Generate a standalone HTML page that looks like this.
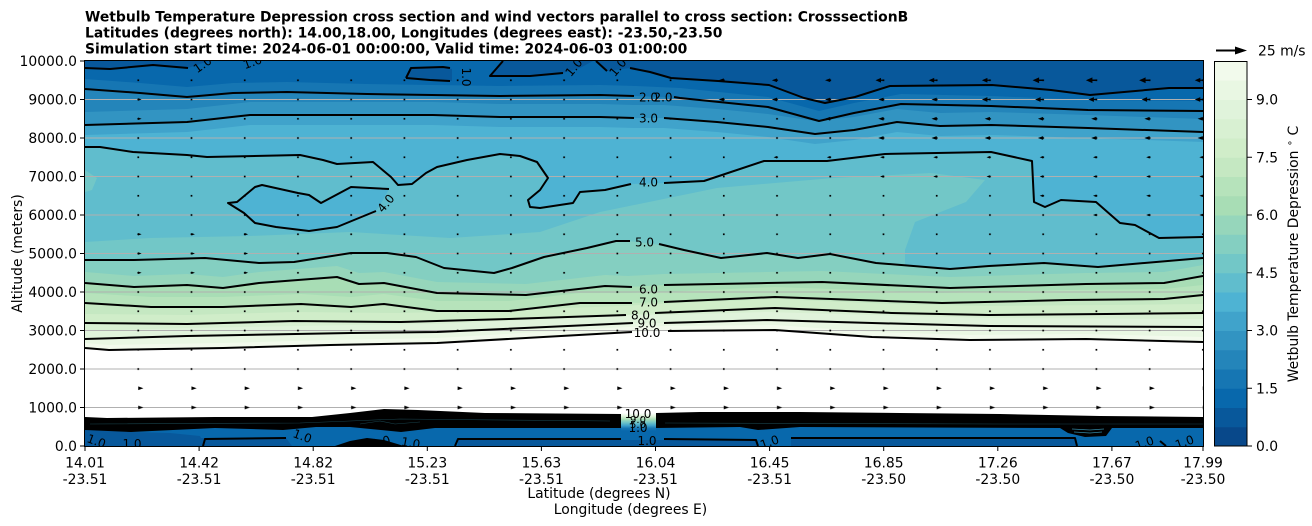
<!DOCTYPE html>
<html><head><meta charset="utf-8"><style>
html,body{margin:0;padding:0;background:#fff;}
svg{display:block;font-family:"DejaVu Sans","Liberation Sans",sans-serif;}
</style></head><body>
<svg width="1312" height="526" viewBox="0 0 1312 526" xmlns="http://www.w3.org/2000/svg">
<defs>
<clipPath id="pc"><rect x="85" y="61" width="1118" height="385"/></clipPath>
<pattern id="pd" patternUnits="userSpaceOnUse" x="58.385" y="51.375" width="53.23" height="19.25"><rect x="25.8" y="8.8" width="1.7" height="1.7" fill="#000"/></pattern>
<pattern id="pr" patternUnits="userSpaceOnUse" x="58.385" y="51.375" width="53.23" height="19.25"><polygon points="26.615,7.825 31.8,9.625 26.615,11.425" fill="#000"/></pattern>
<polygon id="Lb" points="0,-0.7 -4,-0.7 -4,-2.9 -10.5,0 -4,2.9 -4,0.7 0,0.7"/>
<polygon id="Lm" points="0,-0.6 -2.5,-0.6 -2.5,-2.4 -8,0 -2.5,2.4 -2.5,0.6 0,0.6"/>
<polygon id="Ls" points="0,-1.9 -5.2,0 0,1.9"/>
<polygon id="Lt" points="0,-1.3 -3.4,0 0,1.3"/>
<polygon id="Rt" points="0,-1.3 3.4,0 0,1.3"/>
<linearGradient id="gcol" x1="0" y1="0" x2="0" y2="1">
<stop offset="0" stop-color="#ffffff"/><stop offset="0.18" stop-color="#e0f3db"/><stop offset="0.35" stop-color="#a8ddb5"/><stop offset="0.52" stop-color="#72c7c7"/><stop offset="0.7" stop-color="#3fa2cc"/><stop offset="0.85" stop-color="#1676b3"/><stop offset="1" stop-color="#0868ac"/>
</linearGradient>
</defs>

<!-- Titles -->
<g font-weight="bold" font-size="13.9" fill="#000">
<text x="85" y="21.3">Wetbulb Temperature Depression cross section and wind vectors parallel to cross section: CrosssectionB</text>
<text x="85" y="37.3">Latitudes (degrees north): 14.00,18.00, Longitudes (degrees east): -23.50,-23.50</text>
<text x="85" y="53.3">Simulation start time: 2024-06-01 00:00:00, Valid time: 2024-06-03 01:00:00</text>
</g>

<g clip-path="url(#pc)">
<!-- base (<1) -->
<rect x="85" y="61" width="1118" height="385" fill="rgb(8,88,155)"/>
<!-- >=1 -->
<path fill="rgb(8,104,172)" d="M85,68 L110,69 L153,65 L188,68 L200,64 L212,60 L596,60 L607,71 L630,68 L650,72 L671,78 L718,81 L769,85 L804,98 L825,103 L855,97 L890,86 L992,85 L1051,90 L1090,95 L1169,88 L1203,88 L1203,446 L85,446 Z"/>
<path fill="rgb(8,88,155)" d="M406,78 L411,68 L443,67 L452,69 L452,81 L430,80 Z"/>
<path fill="rgb(8,88,155)" d="M490,77 L502,61 L593,61 L580,68 L563,73 Z"/>
<!-- B-based -->
<path fill="rgb(22,118,179)" transform="translate(0,-10)" d="M85,89 L140,93 L187,97 L233,93 L287,92 L367,94 L500,96 L600,95 L636,96 L680,98 L768,107 L819,121 L854,113 L901,104 L991,106 L1088,110 L1203,111 L1203,446 L85,446 Z"/>
<path fill="rgb(36,133,186)" d="M85,89 L140,93 L187,97 L233,93 L287,92 L367,94 L500,96 L600,95 L636,96 L680,98 L768,107 L819,121 L854,113 L901,104 L991,106 L1088,110 L1203,111 L1203,446 L85,446 Z"/>
<!-- C-based -->
<path fill="rgb(50,148,194)" transform="translate(0,-13)" d="M85,125 L187,122 L250,115 L333,115 L433,115 L500,117 L600,117 L634,118 L664,118 L717,122 L768,127 L815,134 L854,130 L897,122 L940,126 L991,125 L1088,128 L1203,132 L1203,460 L85,460 Z"/>
<path fill="rgb(64,163,203)" d="M85,125 L187,122 L250,115 L333,115 L433,115 L500,117 L600,117 L634,118 L664,118 L717,122 L768,127 L815,134 L854,130 L897,122 L940,126 L991,125 L1088,128 L1203,132 L1203,446 L85,446 Z"/>
<path fill="rgb(78,179,211)" transform="translate(0,10)" d="M85,125 L187,122 L250,115 L333,115 L433,115 L500,117 L600,117 L634,118 L664,118 L717,122 L768,127 L815,134 L854,130 L897,122 L940,126 L991,125 L1088,128 L1203,132 L1203,446 L85,446 Z"/>
<!-- D (>=4) -->
<path fill="rgb(96,189,205)" d="M85,147 L100,147 L133,152 L187,155 L207,157 L300,155 L323,160 L337,164 L373,162 L391,177 L398,185 L412,184 L426,173 L437,167 L467,160 L500,154 L520,156 L537,162 L548,178 L540,190 L528,200 L530,207 L540,208 L573,203 L580,192 L605,190 L630,184 L664,183 L704,181 L764,161 L827,161 L885,154 L991,152 L1032,161 L1034,202 L1045,207 L1061,200 L1096,202 L1120,223 L1135,225 L1159,238 L1203,237 L1203,446 L85,446 Z"/>
<path fill="rgb(78,179,211)" d="M228,203 L237,202 L255,187 L262,185 L298,193 L309,195 L321,203 L351,187 L389,189 L383,200 L376,211 L337,227 L309,231 L276,227 L255,223 L244,213 Z"/>
<!-- >=4.5 -->
<path fill="rgb(114,199,199)" d="M85,242 L150,238 L250,236 L350,232 L450,238 L540,232 L600,212 L717,188 L833,178 L931,173 L985,180 L966,202 L915,222 L905,250 L905,446 L85,446 Z"/>
<path fill="rgb(114,199,199)" d="M85,170 L97,178 L92,190 L85,192 Z"/>
<!-- E (>=5) -->
<path fill="rgb(132,207,193)" d="M85,260 L134,260 L205,258 L259,263 L294,262 L351,253 L387,253 L416,257 L444,268 L494,273 L512,268 L544,257 L587,248 L616,241 L628,241 L661,245 L684,250 L721,258 L767,253 L798,258 L830,254 L876,263 L950,269 L989,266 L1044,263 L1098,267 L1203,258 L1203,446 L85,446 Z"/>
<!-- F -->
<path fill="rgb(150,214,187)" transform="translate(0,-11)" d="M85,283 L134,287 L187,285 L223,288 L259,283 L337,277 L359,284 L384,283 L437,293 L526,295 L605,286 L628,287 L664,285 L767,283 L822,282 L950,288 L1086,284 L1164,283 L1203,276 L1203,460 L85,460 Z"/>
<path fill="rgb(168,221,181)" d="M85,283 L134,287 L187,285 L223,288 L259,283 L337,277 L359,284 L384,283 L437,293 L526,295 L605,286 L628,287 L664,285 L767,283 L822,282 L950,288 L1086,284 L1164,283 L1203,276 L1203,446 L85,446 Z"/>
<!-- G -->
<path fill="rgb(182,227,187)" transform="translate(0,-10)" d="M85,303 L151,307 L223,307 L301,304 L351,307 L384,304 L437,311 L509,311 L580,303 L630,303 L664,302 L775,297 L942,303 L1067,300 L1164,299 L1203,295 L1203,460 L85,460 Z"/>
<path fill="rgb(197,232,194)" d="M85,303 L151,307 L223,307 L301,304 L351,307 L384,304 L437,311 L509,311 L580,303 L630,303 L664,302 L775,297 L942,303 L1067,300 L1164,299 L1203,295 L1203,446 L85,446 Z"/>
<!-- H -->
<path fill="rgb(208,237,201)" transform="translate(0,-9)" d="M85,323 L187,324 L294,321 L401,322 L509,319 L623,315 L656,313 L775,308 L892,313 L989,315 L1106,314 L1203,313 L1203,460 L85,460 Z"/>
<path fill="rgb(216,240,210)" d="M85,323 L187,324 L294,321 L401,322 L509,319 L623,315 L656,313 L775,308 L892,313 L989,315 L1106,314 L1203,313 L1203,446 L85,446 Z"/>
<!-- I -->
<path fill="rgb(224,243,219)" transform="translate(0,-8)" d="M85,339 L187,336 L351,333 L437,332 L628,323 L664,323 L767,320 L872,323 L989,326 L1203,327 L1203,460 L85,460 Z"/>
<path fill="rgb(233,247,227)" d="M85,339 L187,336 L351,333 L437,332 L628,323 L664,323 L767,320 L872,323 L989,326 L1203,327 L1203,446 L85,446 Z"/>
<!-- J -->
<path fill="rgb(242,250,236)" transform="translate(0,-5)" d="M85,348 L109,350 L223,348 L330,345 L437,343 L628,332 L670,331 L775,330 L872,337 L970,340 L1086,339 L1203,342 L1203,460 L85,460 Z"/>
<path fill="#ffffff" d="M85,348 L109,350 L223,348 L330,345 L437,343 L628,332 L670,331 L775,330 L872,337 L970,340 L1086,339 L1203,342 L1203,446 L85,446 Z"/>

<!-- bottom blue -->
<rect x="85" y="424" width="1118" height="22" fill="rgb(8,104,172)"/>
<path fill="rgb(8,88,155)" d="M85,430 L131,432 L170,433 L200,436 L201,438 L286,438 L292,446 L85,446 Z"/>
<path fill="rgb(8,88,155)" d="M458,439 L610,438 L620,440 L756,440 L758,446 L458,446 Z"/>
<path fill="rgb(8,88,155)" d="M791,438 L1075,439 L1077,446 L791,446 Z"/>
<!-- black band -->
<path fill="#000" d="M85,417 L107,418 L215,417 L312,417 L350,413 L384,409 L418,410 L485,413 L621,414 L621,428 L610,428 L485,428 L435,428 L401,432 L350,427 L316,427 L283,430 L215,428 L131,432 L85,430 Z"/>
<path fill="#000" d="M656,413 L700,412 L800,412 L900,413 L1000,414 L1100,416 L1203,417 L1203,428 L1112,428 L1106,436 L1085,437 L1068,433 L1060,428 L800,427 L758,430 L740,427 L656,428 Z"/>
<g stroke="#2a6f7f" stroke-width="0.6" fill="none" opacity="0.6">
<path d="M90,424 L300,423 L350,421 L400,419 L610,421"/>
<path d="M360,424 L380,421 L395,424 L420,422"/>
<path d="M665,423 L1000,424 L1203,424"/>
</g>
<g stroke="#3fa6c8" stroke-width="0.8" fill="none" opacity="0.8">
<path d="M1072,429 L1090,430 L1104,429"/>
<path d="M1074,432 L1090,433 L1102,432"/>
</g>
<rect x="621" y="413" width="35" height="18" fill="url(#gcol)"/>
<path fill="#000" d="M335,446 L350,441 L367,438 L384,440 L404,446 Z"/>

<!-- grid -->
<g stroke="#b0b0b0" stroke-width="1.1">
<line x1="85" y1="99.5" x2="1203" y2="99.5"/>
<line x1="85" y1="138" x2="1203" y2="138"/>
<line x1="85" y1="176.5" x2="1203" y2="176.5"/>
<line x1="85" y1="215" x2="1203" y2="215"/>
<line x1="85" y1="253.5" x2="1203" y2="253.5"/>
<line x1="85" y1="292" x2="1203" y2="292"/>
<line x1="85" y1="330.5" x2="1203" y2="330.5"/>
<line x1="85" y1="369" x2="1203" y2="369"/>
<line x1="85" y1="407.5" x2="1203" y2="407.5"/>
</g>

<!-- contour lines -->
<g stroke="#000" stroke-width="2" fill="none" stroke-linejoin="round">
<path d="M85,68 L110,69 L153,65 L188,68"/>
<path d="M596,61 L607,71"/>
<path d="M630,68 L650,72 L671,78 L718,81 L769,85 L804,98 L825,103 L855,97 L890,86 L992,85 L1051,90 L1090,95 L1169,88 L1203,88"/>
<path d="M406,78 L411,68 L443,67 L450,68"/>
<path d="M406,78 L430,80 L450,81"/>
<path d="M503,61 L490,76 L530,76 L563,73"/>
<path d="M85,89 L140,93 L187,97 L233,93 L287,92 L367,94 L500,96 L600,95 L634,96"/>
<path d="M674,97 L680,98 L768,107 L819,121 L854,113 L901,104 L991,106 L1088,110 L1203,111"/>
<path d="M85,125 L187,122 L250,115 L333,115 L433,115 L500,117 L600,117 L634,118"/>
<path d="M664,118 L717,122 L768,127 L815,134 L854,130 L897,122 L940,126 L991,125 L1088,128 L1203,132"/>
<path d="M85,147 L100,147 L133,152 L187,155 L207,157 L300,155 L323,160 L337,164 L373,162 L391,177 L398,185 L412,184 L426,173 L437,167 L467,160 L500,154 L520,156 L537,162 L548,178 L540,190 L528,200 L530,207 L540,208 L573,203 L580,192 L605,190 L631,184"/>
<path d="M664,183 L704,181 L764,161 L827,161 L885,154 L991,152 L1032,161 L1034,202 L1045,207 L1061,200 L1096,202 L1120,223 L1135,225 L1159,238 L1203,237"/>
<path d="M389,189 L351,187 L321,203 L309,195 L298,193 L262,185 L255,187 L237,202 L228,203 L244,213 L255,223 L276,227 L309,231 L337,227 L376,211"/>
<path d="M85,260 L134,260 L205,258 L259,263 L294,262 L351,253 L387,253 L416,257 L444,268 L494,273 L512,268 L544,257 L587,248 L616,241 L630,241"/>
<path d="M659,244 L684,250 L721,258 L767,253 L798,258 L830,254 L876,263 L950,269 L989,266 L1044,263 L1098,267 L1203,258"/>
<path d="M85,283 L134,287 L187,285 L223,288 L259,283 L337,277 L359,284 L384,283 L437,293 L526,295 L605,286 L632,287"/>
<path d="M664,285 L767,283 L822,282 L950,288 L1086,284 L1164,283 L1203,276"/>
<path d="M85,303 L151,307 L223,307 L301,304 L351,307 L384,304 L437,311 L509,311 L580,303 L632,303"/>
<path d="M664,302 L775,297 L942,303 L1067,300 L1164,299 L1203,295"/>
<path d="M85,323 L187,324 L294,321 L401,322 L509,319 L626,315"/>
<path d="M655,313 L775,308 L892,313 L989,315 L1106,314 L1203,313"/>
<path d="M85,339 L187,336 L351,333 L437,332 L633,323"/>
<path d="M664,323 L767,320 L872,323 L989,326 L1203,327"/>
<path d="M85,348 L109,350 L223,348 L330,345 L437,343 L632,332"/>
<path d="M668,331 L775,330 L872,337 L970,340 L1086,339 L1203,342"/>
<!-- bottom 1.0 -->
<path d="M203,446 L205,439 L286,438"/>
<path d="M455,446 L458,439 L621,439"/>
<path d="M664,439 L756,440 L758,446"/>
<path d="M791,438 L1075,438 L1077,446"/>
<path d="M1160,441 L1166,446"/>
</g>

<!-- quiver dots and arrows -->
<rect x="110" y="72" width="1100" height="300" fill="url(#pd)"/>
<rect x="110" y="380" width="1100" height="34" fill="url(#pr)"/>
<g fill="#000">
<use href="#Ls" x="723.8" y="80.25"/><use href="#Ls" x="777" y="80.25"/><use href="#Ls" x="830.2" y="80.25"/>
<use href="#Lm" x="883.5" y="80.25"/><use href="#Lm" x="936.7" y="80.25"/><use href="#Lm" x="989.9" y="80.25"/>
<use href="#Lb" x="1043.1" y="80.25"/><use href="#Lb" x="1096.4" y="80.25"/><use href="#Lb" x="1149.6" y="80.25"/>
<use href="#Lm" x="1202.8" y="80.25"/>
<use href="#Rt" x="138.2" y="99.5"/>
<use href="#Ls" x="723.8" y="99.5"/><use href="#Ls" x="777" y="99.5"/><use href="#Ls" x="830.2" y="99.5"/><use href="#Ls" x="883.5" y="99.5"/><use href="#Ls" x="936.7" y="99.5"/>
<use href="#Lm" x="989.9" y="99.5"/><use href="#Lm" x="1043.1" y="99.5"/><use href="#Lm" x="1096.4" y="99.5"/><use href="#Lm" x="1149.6" y="99.5"/><use href="#Lm" x="1202.8" y="99.5"/>
<use href="#Rt" x="138.2" y="118.75"/>
<use href="#Ls" x="830.2" y="118.75"/><use href="#Ls" x="883.5" y="118.75"/><use href="#Ls" x="936.7" y="118.75"/><use href="#Ls" x="989.9" y="118.75"/><use href="#Ls" x="1043.1" y="118.75"/><use href="#Ls" x="1096.4" y="118.75"/><use href="#Ls" x="1149.6" y="118.75"/><use href="#Ls" x="1202.8" y="118.75"/>
<use href="#Ls" x="883.5" y="138"/><use href="#Ls" x="936.7" y="138"/><use href="#Ls" x="989.9" y="138"/><use href="#Ls" x="1043.1" y="138"/><use href="#Ls" x="1096.4" y="138"/><use href="#Ls" x="1149.6" y="138"/><use href="#Ls" x="1202.8" y="138"/>
<use href="#Lt" x="777" y="157.25"/><use href="#Lt" x="830.2" y="157.25"/><use href="#Lt" x="883.5" y="157.25"/><use href="#Lt" x="936.7" y="157.25"/><use href="#Lt" x="989.9" y="157.25"/><use href="#Lt" x="1043.1" y="157.25"/><use href="#Lt" x="1096.4" y="157.25"/><use href="#Lt" x="1149.6" y="157.25"/><use href="#Lt" x="1202.8" y="157.25"/>
<use href="#Lt" x="883.5" y="176.5"/><use href="#Lt" x="936.7" y="176.5"/><use href="#Lt" x="989.9" y="176.5"/><use href="#Lt" x="1043.1" y="176.5"/><use href="#Lt" x="1096.4" y="176.5"/><use href="#Lt" x="1149.6" y="176.5"/><use href="#Lt" x="1202.8" y="176.5"/>
<use href="#Lt" x="1043.1" y="195.75"/><use href="#Lt" x="1096.4" y="195.75"/><use href="#Lt" x="1149.6" y="195.75"/><use href="#Lt" x="1202.8" y="195.75"/>
<use href="#Lt" x="1096.4" y="215"/><use href="#Lt" x="1149.6" y="215"/><use href="#Lt" x="1202.8" y="215"/>
<use href="#Rt" x="138.2" y="234.25"/><use href="#Rt" x="191.5" y="234.25"/><use href="#Rt" x="244.7" y="234.25"/>
<use href="#Rt" x="138.2" y="253.5"/><use href="#Rt" x="191.5" y="253.5"/><use href="#Rt" x="244.7" y="253.5"/>
<use href="#Rt" x="138.2" y="272.75"/><use href="#Rt" x="191.5" y="272.75"/><use href="#Rt" x="244.7" y="272.75"/>
</g>

<!-- contour labels -->
<g font-size="12" fill="#000" text-anchor="middle">
<text x="648.5" y="101.5">2.0</text>
<text x="663" y="101.5">2.0</text>
<text x="648.5" y="122.5">3.0</text>
<text x="648.5" y="186.5">4.0</text>
<text x="644.5" y="246.5">5.0</text>
<text x="648.5" y="293.5">6.0</text>
<text x="648.5" y="306.5">7.0</text>
<text x="640.5" y="319.5">8.0</text>
<text x="647" y="327.5">9.0</text>
<text x="647" y="337">10.0</text>
<text transform="translate(389,206) rotate(-50)">4.0</text>
<text transform="translate(205,68) rotate(-35)">1.0</text>
<text transform="translate(254,66) rotate(-20)">1.0</text>
<text transform="translate(462,77) rotate(90)">1.0</text>
<text transform="translate(577,70) rotate(-50)">1.0</text>
<text transform="translate(621,70) rotate(-50)">1.0</text>
<text x="638" y="418">10.0</text>
<text x="638" y="423" font-size="10">9.0</text>
<text x="638" y="428" font-size="10">5.0</text>
<text x="638" y="432">1.0</text>
<text x="647" y="445">1.0</text>
<text transform="translate(771,446) rotate(-20)">1.0</text>
<text transform="translate(1146,447) rotate(-20)">1.0</text>
<text transform="translate(1186,446) rotate(-20)">1.0</text>
<text transform="translate(95,445) rotate(20)">1.0</text>
<text x="132" y="448">1.0</text>
<text transform="translate(301,440) rotate(20)">1.0</text>
<text transform="translate(382,446) rotate(-15)">1.0</text>
<text transform="translate(410,447) rotate(10)">1.0</text>
</g>
</g>

<!-- spines -->
<rect x="84.5" y="60.5" width="1119" height="386" fill="none" stroke="#000" stroke-width="1"/>

<!-- y ticks -->
<g stroke="#000" stroke-width="1">
<line x1="80" y1="61" x2="85" y2="61"/><line x1="80" y1="99.5" x2="85" y2="99.5"/><line x1="80" y1="138" x2="85" y2="138"/><line x1="80" y1="176.5" x2="85" y2="176.5"/><line x1="80" y1="215" x2="85" y2="215"/><line x1="80" y1="253.5" x2="85" y2="253.5"/><line x1="80" y1="292" x2="85" y2="292"/><line x1="80" y1="330.5" x2="85" y2="330.5"/><line x1="80" y1="369" x2="85" y2="369"/><line x1="80" y1="407.5" x2="85" y2="407.5"/><line x1="80" y1="446" x2="85" y2="446"/>
</g>
<g font-size="13.9" fill="#000" text-anchor="end">
<text x="77" y="66">10000.0</text><text x="77" y="104.5">9000.0</text><text x="77" y="143">8000.0</text><text x="77" y="181.5">7000.0</text><text x="77" y="220">6000.0</text><text x="77" y="258.5">5000.0</text><text x="77" y="297">4000.0</text><text x="77" y="335.5">3000.0</text><text x="77" y="374">2000.0</text><text x="77" y="412.5">1000.0</text><text x="77" y="451">0.0</text>
</g>
<text transform="translate(22,253.5) rotate(-90)" font-size="13.9" text-anchor="middle">Altitude (meters)</text>

<!-- x ticks -->
<g stroke="#000" stroke-width="1">
<line x1="85" y1="446" x2="85" y2="451"/><line x1="199.1" y1="446" x2="199.1" y2="451"/><line x1="313.2" y1="446" x2="313.2" y2="451"/><line x1="427.3" y1="446" x2="427.3" y2="451"/><line x1="541.4" y1="446" x2="541.4" y2="451"/><line x1="655.5" y1="446" x2="655.5" y2="451"/><line x1="769.6" y1="446" x2="769.6" y2="451"/><line x1="883.7" y1="446" x2="883.7" y2="451"/><line x1="997.8" y1="446" x2="997.8" y2="451"/><line x1="1111.9" y1="446" x2="1111.9" y2="451"/><line x1="1203" y1="446" x2="1203" y2="451"/>
</g>
<g font-size="13.9" fill="#000" text-anchor="middle">
<text x="85" y="467.5">14.01</text><text x="85" y="484">-23.51</text>
<text x="199.1" y="467.5">14.42</text><text x="199.1" y="484">-23.51</text>
<text x="313.2" y="467.5">14.82</text><text x="313.2" y="484">-23.51</text>
<text x="427.3" y="467.5">15.23</text><text x="427.3" y="484">-23.51</text>
<text x="541.4" y="467.5">15.63</text><text x="541.4" y="484">-23.51</text>
<text x="655.5" y="467.5">16.04</text><text x="655.5" y="484">-23.51</text>
<text x="769.6" y="467.5">16.45</text><text x="769.6" y="484">-23.51</text>
<text x="883.7" y="467.5">16.85</text><text x="883.7" y="484">-23.50</text>
<text x="997.8" y="467.5">17.26</text><text x="997.8" y="484">-23.50</text>
<text x="1111.9" y="467.5">17.67</text><text x="1111.9" y="484">-23.50</text>
<text x="1203" y="467.5">17.99</text><text x="1203" y="484">-23.50</text>
<text x="599" y="497.8">Latitude (degrees N)</text>
<text x="630.5" y="514">Longitude (degrees E)</text>
</g>

<!-- quiver key -->
<line x1="1216" y1="50.5" x2="1237" y2="50.5" stroke="#000" stroke-width="2"/>
<polygon points="1235,46.5 1247,50.5 1235,54.5" fill="#000"/>
<text x="1258" y="55.5" font-size="13.9">25 m/s</text>

<!-- colorbar -->
<g>
<rect x="1214" y="426.75" width="33" height="19.75" fill="rgb(8,72,138)"/>
<rect x="1214" y="407.5" width="33" height="19.75" fill="rgb(8,88,155)"/>
<rect x="1214" y="388.25" width="33" height="19.75" fill="rgb(8,104,172)"/>
<rect x="1214" y="369" width="33" height="19.75" fill="rgb(22,118,179)"/>
<rect x="1214" y="349.75" width="33" height="19.75" fill="rgb(36,133,186)"/>
<rect x="1214" y="330.5" width="33" height="19.75" fill="rgb(50,148,194)"/>
<rect x="1214" y="311.25" width="33" height="19.75" fill="rgb(64,163,203)"/>
<rect x="1214" y="292" width="33" height="19.75" fill="rgb(78,179,211)"/>
<rect x="1214" y="272.75" width="33" height="19.75" fill="rgb(96,189,205)"/>
<rect x="1214" y="253.5" width="33" height="19.75" fill="rgb(114,199,199)"/>
<rect x="1214" y="234.25" width="33" height="19.75" fill="rgb(132,207,193)"/>
<rect x="1214" y="215" width="33" height="19.75" fill="rgb(150,214,187)"/>
<rect x="1214" y="195.75" width="33" height="19.75" fill="rgb(168,221,181)"/>
<rect x="1214" y="176.5" width="33" height="19.75" fill="rgb(182,227,187)"/>
<rect x="1214" y="157.25" width="33" height="19.75" fill="rgb(197,232,194)"/>
<rect x="1214" y="138" width="33" height="19.75" fill="rgb(208,237,201)"/>
<rect x="1214" y="118.75" width="33" height="19.75" fill="rgb(216,240,210)"/>
<rect x="1214" y="99.5" width="33" height="19.75" fill="rgb(224,243,219)"/>
<rect x="1214" y="80.25" width="33" height="19.75" fill="rgb(233,247,227)"/>
<rect x="1214" y="61" width="33" height="19.25" fill="rgb(242,250,236)"/>
<rect x="1214.5" y="61.5" width="32.5" height="384.5" fill="none" stroke="#000" stroke-width="1"/>
</g>
<g stroke="#000" stroke-width="1">
<line x1="1247" y1="446" x2="1252" y2="446"/><line x1="1247" y1="388.25" x2="1252" y2="388.25"/><line x1="1247" y1="330.5" x2="1252" y2="330.5"/><line x1="1247" y1="272.75" x2="1252" y2="272.75"/><line x1="1247" y1="215" x2="1252" y2="215"/><line x1="1247" y1="157.25" x2="1252" y2="157.25"/><line x1="1247" y1="99.5" x2="1252" y2="99.5"/>
</g>
<g font-size="13.9" fill="#000">
<text x="1256" y="451">0.0</text><text x="1256" y="393.25">1.5</text><text x="1256" y="335.5">3.0</text><text x="1256" y="277.75">4.5</text><text x="1256" y="220">6.0</text><text x="1256" y="162.25">7.5</text><text x="1256" y="104.5">9.0</text>
</g>
<text transform="translate(1298,254) rotate(-90)" font-size="13.9" text-anchor="middle">Wetbulb Temperature Depression <tspan font-size="10" dy="-5">∘</tspan><tspan dy="5"> C</tspan></text>
</svg>
</body></html>
